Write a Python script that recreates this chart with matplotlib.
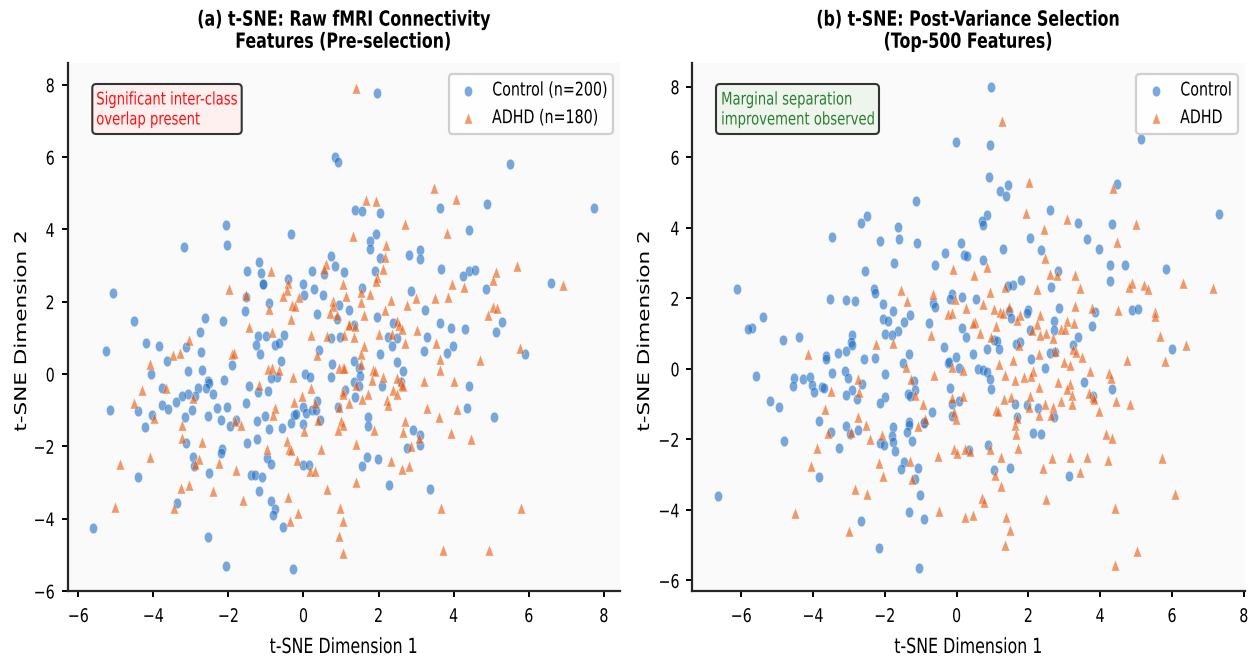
import numpy as np
import matplotlib
matplotlib.use("Agg")
import matplotlib.pyplot as plt
import matplotlib.patheffects as pe
from matplotlib.markers import MarkerStyle
from matplotlib.patches import FancyBboxPatch
from matplotlib.transforms import Affine2D, IdentityTransform

control_a = [(0.83,5.99),(0.92,5.87),(-0.34,3.88),(-2.06,4.11),(-2.05,3.57),(-3.18,3.51),(-1.18,3.09),(0.72,3.27),(0.84,2.99),(-1.50,2.86),
(-1.13,2.80),(1.09,2.82),(0.24,2.85),(0.55,2.76),(-0.40,2.62),(-1.07,2.49),(-1.09,2.49),(-0.01,2.49),(0.29,2.35),(0.02,2.18),
(0.51,2.19),(-1.52,2.12),(-5.08,2.24),(-0.92,1.95),(0.94,1.91),(1.20,1.78),(-1.55,1.75),(0.37,1.66),(0.89,1.52),(-2.62,1.55),
(-4.51,1.47),(-2.15,1.46),(-2.76,1.16),(-1.22,1.06),(-0.99,1.06),(-0.51,1.08),(0.72,0.99),(0.97,1.03),
(1.96,7.76),(5.50,5.82),(7.75,4.59),(4.88,4.69),(3.63,4.60),(1.36,4.54),(1.55,4.50),(2.03,4.45),(4.42,3.97),(1.94,3.88),
(1.77,3.69),(1.77,3.46),(2.05,3.21),(3.10,3.42),(3.10,3.17),(2.82,3.29),(1.91,2.85),(3.67,2.89),(4.42,2.86),(4.58,2.87),
(4.24,2.70),(4.87,2.36),(6.58,2.52),(1.55,2.39),(2.86,2.29),(3.24,1.78),(1.95,1.58),(1.35,1.36),(2.39,1.41),(3.64,1.41),
(3.92,1.28),(4.31,1.25),(5.14,1.17),(5.30,1.45),(2.24,1.01),(2.48,0.99),(3.30,1.01),
(2.37,0.78),(3.97,0.78),(3.21,0.64),(3.83,0.59),(5.91,0.55),(2.04,0.56),(1.34,0.36),(2.50,0.34),(2.66,0.09),(1.47,0.18),
(1.51,-0.06),(1.34,-0.21),(1.49,-0.33),(2.09,-0.33),(4.40,-0.33),(1.11,-0.43),(1.36,-0.63),(2.61,-0.21),(4.35,-0.93),(5.07,-1.20),
(1.73,-1.18),(1.73,-1.44),(2.93,-1.55),(3.11,-1.68),(3.11,-1.95),(2.75,-2.04),(1.70,-2.29),(1.99,-2.34),(1.55,-2.55),(2.29,-3.06),(3.37,-3.19),
(-5.25,0.63),(-4.19,0.85),(-3.85,0.78),(-3.12,0.75),(-2.72,0.60),(-3.64,0.35),(-4.07,-0.01),(-3.08,0.07),(-2.69,0.10),(-3.76,-0.38),
(-2.53,-0.18),(-2.51,-0.26),(-2.59,-0.40),(-2.80,-0.39),(-2.40,-0.56),(-2.12,-0.16),(-1.90,0.24),(-1.26,0.79),(-1.16,0.54),(-0.77,0.80),
(-0.64,0.87),(-0.60,0.37),(0.42,0.67),(0.76,0.29),(0.04,0.01),(0.17,-0.07),(0.74,-0.08),(-0.70,-0.07),(-0.87,-0.12),(-1.44,-0.32),
(-0.95,-0.48),(-1.22,-0.50),(-3.07,-0.56),(-3.24,-0.61),(-2.88,-0.61),(-3.39,-0.78),(-3.77,-0.85),(-3.62,-0.96),(-5.14,-0.99),(-4.42,-1.01),
(-4.03,-1.14),(-4.21,-1.46),(-3.16,-1.19),(-2.97,-1.00),(-2.54,-1.16),(-2.29,-0.95),(-2.03,-0.92),(-2.20,-1.27),(-1.95,-1.44),(-1.81,-1.27),
(-1.54,-0.80),(-1.02,-1.17),(-1.23,-1.31),(-0.93,-1.51),(-0.57,-1.50),(-0.32,-1.35),(-0.24,-1.12),(-0.20,-1.11),(-0.02,-0.92),(0.08,-1.08),
(-0.02,-1.38),(0.22,-0.99),(0.33,-0.99),(0.37,-0.74),(0.43,-1.28),(0.92,-0.91),(-3.14,-1.91),(-1.23,-1.80),(-1.50,-1.92),(-2.16,-2.07),
(-2.21,-2.19),(-2.93,-2.29),(-2.91,-2.55),(-0.98,-2.33),(-0.86,-2.48),(0.00,-2.52),(0.15,-2.52),(-2.52,-2.73),(-1.39,-2.78),(-1.29,-2.78),
(-1.11,-2.86),(-4.41,-2.85),(-1.18,-3.24),(-0.86,-3.50),(-0.76,-3.73),(-0.80,-3.89),(-3.37,-3.58),(-0.55,-4.22),(-5.61,-4.27),(-2.53,-4.52),
(-2.06,-5.32),(-0.27,-5.40)]

adhd_a = [(-0.86,2.86),(-1.98,2.36),(-1.52,2.19),(0.59,3.04),(0.55,2.90),(-0.40,2.51),(-0.44,2.32),(1.06,2.49),(-0.54,2.15),(-0.13,2.14),
(1.14,2.16),(-0.31,1.90),(-0.22,1.88),(-0.93,1.81),(0.79,2.01),(0.79,1.89),(0.71,1.70),(0.88,1.64),(-0.34,1.53),(-1.45,1.29),
(0.19,1.08),(0.63,1.04),(1.08,1.08),(-3.04,0.95),(1.22,1.38),(-0.83,1.15),
(1.41,7.91),(3.47,5.14),(4.05,4.83),(1.67,4.81),(1.92,4.79),(2.71,4.15),(3.82,3.90),(1.31,3.83),(2.19,3.56),(2.16,3.23),
(2.13,2.90),(5.69,3.00),(5.12,2.82),(5.06,2.61),(1.96,2.67),(1.92,2.56),(3.95,2.49),(4.28,2.41),(6.91,2.47),(1.53,2.26),
(1.76,2.21),(2.99,2.10),(3.50,2.10),(3.85,2.12),(2.34,2.04),(1.54,1.99),(2.75,1.90),(2.18,1.78),(5.05,1.84),(5.15,1.83),
(4.92,1.62),(1.60,1.62),(1.22,1.36),(1.36,1.32),(2.50,1.47),(2.55,1.35),(2.62,1.24),(3.02,1.22),(2.00,1.10),(2.37,1.10),(1.34,1.03),
(1.62,0.78),(3.53,0.85),(2.70,0.87),(1.53,0.56),(5.77,0.71),(3.63,0.41),(4.70,0.38),(3.63,0.10),(1.52,0.27),(1.06,0.18),
(1.86,0.10),(1.91,0.08),(2.11,-0.08),(1.83,-0.16),(3.21,-0.20),(4.00,-0.20),(2.50,-0.10),(2.61,-0.19),(2.66,-0.33),(2.62,-0.29),
(2.39,-0.43),(2.50,-0.55),(1.40,-0.31),(1.72,-0.56),(1.56,-0.70),(1.21,-0.80),(2.22,-0.72),(2.26,-0.86),(1.06,-0.47),(1.04,-0.56),
(3.28,-0.95),(4.10,-0.96),(3.61,-1.19),(2.71,-1.30),(1.89,-1.54),(2.65,-1.61),(3.08,-1.77),(3.93,-1.62),(4.46,-1.79),(1.39,-1.94),
(2.86,-2.00),(2.33,-2.40),(2.80,-2.55),(2.62,-2.62),(1.40,-2.99),(3.65,-3.70),(5.79,-3.70),(1.06,-4.06),(3.72,-4.87),(4.94,-4.88),(1.04,-4.95),
(-3.48,0.53),(-3.29,0.57),(-1.91,0.55),(-1.84,0.58),(-4.10,0.29),(0.37,0.52),(-0.95,0.13),(-0.83,0.18),(-0.66,0.10),(-0.27,-0.08),
(0.94,0.18),(1.07,0.17),(-4.30,-0.45),(-3.66,-0.38),(-1.19,-0.31),(0.19,-0.40),(-0.03,-0.62),(-2.95,-0.66),(-4.51,-0.80),(-0.26,-0.77),
(0.31,-0.80),(-0.76,-0.93),(-0.82,-1.12),(0.95,-0.90),(-3.98,-1.21),(-1.82,-1.29),(-1.66,-1.40),(0.40,-1.26),(1.00,-1.30),(1.04,-1.41),
(0.93,-1.54),(-3.23,-1.42),(0.02,-1.58),(-3.24,-1.78),(-2.70,-1.89),(-0.44,-1.86),(-0.98,-2.08),(-0.38,-2.08),(-0.32,-2.09),(0.46,-2.08),
(-4.08,-2.30),(-4.88,-2.48),(-2.78,-2.34),(-2.90,-2.49),(-2.26,-2.45),(-0.16,-2.37),(-1.81,-2.66),(0.17,-2.69),(0.32,-2.69),(-3.05,-3.06),
(-3.27,-3.16),(-2.42,-3.23),(0.63,-3.17),(-1.62,-3.49),(-0.42,-3.39),(-5.01,-3.69),(-3.44,-3.71),(0.97,-3.71),(-0.15,-3.85),(-0.36,-4.06),(0.95,-4.48)]

control_b = [(-0.01,6.44),(-1.13,4.76),(-2.49,4.34),(-2.67,4.14),(-1.63,4.02),(-3.46,3.74),(-2.12,3.62),(-1.61,3.67),(-1.09,3.57),(0.12,3.57),
(-0.33,3.27),(0.22,3.22),(0.28,3.20),(-1.73,2.99),(-0.60,2.93),(-2.54,2.78),(-6.11,2.26),(-2.30,2.25),(-2.26,2.15),(-0.13,2.11),
(0.14,2.03),(-0.18,1.97),(-3.53,1.98),(-3.07,1.95),(-2.84,1.92),(-2.06,1.84),(-0.65,1.86),(-0.61,1.74),(-1.76,1.65),(-1.30,1.52),
(-5.40,1.47),(-2.04,1.41),(-1.90,1.35),(-1.45,1.33),(-0.78,1.31),(-5.70,1.15),(-5.81,1.12),(0.16,1.17),(0.25,0.91),(-1.98,1.00),
(-1.62,1.07),(-1.81,0.95),(-2.92,0.96),(-4.83,0.83),(-4.40,0.89),
(0.95,7.98),(0.92,6.35),(0.91,5.44),(1.43,5.21),(1.20,5.04),(1.39,4.91),(5.14,6.51),(4.46,5.24),(7.32,4.38),(0.86,4.36),
(0.72,4.19),(0.73,4.09),(2.59,4.51),(3.37,4.13),(4.32,4.10),(2.05,3.72),(3.62,3.67),(3.97,3.41),(1.30,3.39),(2.34,3.36),
(0.73,3.08),(4.27,2.93),(4.69,2.95),(5.82,2.82),(2.83,2.76),(1.80,2.53),(4.27,2.48),(1.56,2.38),(1.42,2.36),(2.63,2.33),
(0.54,1.99),(2.84,1.71),(2.00,1.66),(1.97,1.57),(4.90,1.67),(5.06,1.69),(3.87,1.61),(1.47,1.65),(1.52,1.44),(2.72,1.36),
(2.72,1.10),(2.05,1.10),(3.77,1.22),(3.37,0.89),
(1.03,0.81),(1.12,0.79),(1.19,0.56),(0.86,0.55),(0.47,0.43),(1.65,0.70),(1.76,0.75),(3.25,0.68),(2.59,0.45),(2.73,0.48),
(2.06,0.29),(2.45,0.01),(5.99,0.56),(0.61,-0.01),(0.73,-0.04),(0.84,-0.09),(0.93,-0.28),(0.95,-0.56),(3.55,-0.37),(4.34,-0.58),
(3.81,-0.77),(1.63,-1.01),(1.95,-1.02),(2.28,-1.10),(1.69,-1.36),(2.71,-1.37),(2.12,-1.82),(2.34,-1.85),(0.88,-2.17),(0.34,-2.31),
(1.04,-2.87),(1.48,-2.81),(3.13,-3.03),
(-5.59,-0.20),(-4.53,-0.25),(-4.28,-0.28),(-4.08,-0.24),(-4.56,-0.48),(-4.03,-0.46),(-3.97,-0.65),(-3.76,-0.51),(-3.68,-0.55),(-5.20,-0.91),
(-4.94,-1.09),(-4.81,-2.05),(-6.65,-3.61),(-3.64,0.37),(-3.64,0.29),(-3.30,0.46),(-3.09,0.50),(-2.94,0.77),(-2.90,0.67),(-2.59,0.27),
(-2.27,0.32),(-1.32,0.43),(-1.49,0.17),(-0.35,0.61),(-0.25,0.17),(-0.21,0.18),(-0.01,0.34),(0.08,0.01),(-3.46,-0.13),(-3.11,-0.06),
(-3.03,-0.26),(-2.64,-0.42),(-1.98,-0.16),(-1.18,-0.35),(-1.15,-0.59),(-1.36,-0.72),(-1.30,-0.77),(-2.91,-0.60),(-3.08,-0.75),(-2.77,-0.86),
(-1.99,-0.80),(-2.14,-0.96),(-0.67,-1.23),(-0.18,-0.55),(-0.13,-1.01),(0.08,-0.92),(-0.12,-1.33),(-3.82,-1.47),(-1.33,-1.50),(-1.33,-1.59),
(-0.90,-1.50),(-0.90,-1.54),(-1.78,-1.65),(-1.37,-1.80),(-3.49,-1.78),(-3.08,-1.62),(-2.75,-1.73),(-2.98,-1.84),(-1.79,-1.91),(-1.76,-2.08),
(-2.13,-2.09),(-2.03,-2.17),(-1.25,-2.06),(-1.71,-2.32),(-3.27,-2.25),(-1.46,-2.63),(-1.56,-2.83),(-1.07,-2.80),(-1.17,-3.12),(-3.82,-3.07),
(-1.02,-3.59),(-1.33,-4.07),(-0.92,-4.26),(-2.65,-4.32),(-2.17,-5.08),(-1.04,-5.65)]

adhd_b = [(-0.10,2.83),(-1.56,2.23),(-0.65,2.12),(-1.37,1.91),(-0.04,1.99),(0.26,1.71),(-0.25,1.55),(-0.12,1.59),(-0.70,0.96),
(1.26,7.03),(2.03,5.30),(4.37,5.13),(1.94,4.43),(3.07,4.25),(4.99,4.11),(2.44,3.95),(4.46,3.60),(2.46,3.15),(0.85,2.89),
(0.48,2.67),(2.59,2.70),(2.80,2.66),(3.31,2.66),(1.36,2.33),(2.23,2.27),(3.45,2.29),(4.79,2.33),(4.89,2.42),(5.21,2.38),
(5.33,2.25),(6.31,2.42),(7.15,2.29),(0.94,2.17),(0.75,1.83),(1.05,1.69),(1.21,1.62),(1.28,1.59),(1.47,1.74),(3.29,1.78),
(3.77,1.71),(4.49,1.66),(5.53,1.60),(5.52,1.50),(1.76,1.52),(1.68,1.38),(2.32,1.52),(2.25,1.26),(0.51,1.33),(0.47,1.29),
(1.11,1.20),(0.65,1.02),(3.09,1.35),(3.27,1.29),(2.91,1.13),(3.02,1.12),(2.50,1.02),(2.09,1.10),(2.33,0.96),(5.66,0.93),(2.70,0.86),(0.97,0.91),
(1.73,0.68),(2.74,0.51),(3.25,0.56),(3.32,0.47),(3.50,0.34),(2.30,0.42),(1.56,0.25),(1.19,0.13),(4.76,0.26),(5.81,0.23),
(6.40,0.67),(2.99,0.18),(3.17,0.10),(3.73,-0.07),(4.25,-0.11),(4.30,-0.26),(2.14,-0.06),(2.08,-0.20),(1.34,-0.19),(1.63,-0.32),
(1.87,-0.23),(2.82,-0.37),(3.16,-0.43),(2.29,-0.51),(3.08,-0.56),(3.21,-0.75),(3.70,-0.70),(3.81,-0.81),(3.83,-0.87),(4.43,-0.92),
(4.83,-0.99),(2.05,-0.78),(1.51,-0.79),(1.31,-0.87),(2.91,-0.90),(3.22,-1.00),(2.47,-1.00),(2.70,-1.08),(2.02,-1.09),(1.09,-1.17),
(1.15,-1.21),(3.96,-1.20),(2.29,-1.30),(2.62,-1.30),(1.69,-1.39),(1.63,-1.60),(1.65,-1.85),(4.15,-1.85),(4.32,-1.96),(1.72,-2.24),
(0.93,-2.26),(0.24,-2.27),(0.38,-2.33),(1.25,-2.51),(2.65,-2.52),(3.17,-2.49),(3.64,-2.49),(4.23,-2.58),(5.72,-2.53),(2.40,-2.82),
(3.43,-2.93),(1.06,-3.00),(1.23,-3.32),(0.72,-3.66),(0.77,-3.78),(2.50,-3.68),(6.09,-3.56),(4.42,-3.95),(0.24,-4.19),(0.46,-4.14),
(1.38,-4.19),(1.48,-4.58),(5.02,-5.17),(1.34,-4.99),(4.40,-5.57),(0.19,-0.04),(0.19,-0.77),
(-4.14,0.41),(-2.24,0.70),(-1.78,0.72),(-1.41,0.06),(-0.12,0.06),(-0.63,-0.17),(-2.74,-0.29),(-1.26,-0.29),(-3.50,-0.64),(-2.73,-0.66),
(-1.15,-0.73),(-0.14,-0.84),(-0.93,-0.99),(-3.66,-1.13),(-0.07,-1.22),(-0.01,-1.43),(-2.75,-1.37),(-0.88,-1.42),(-2.52,-1.58),(-1.06,-1.62),
(-3.57,-1.81),(-2.95,-1.79),(-2.09,-1.89),(-2.41,-2.00),(-3.90,-2.24),(-0.07,-2.28),(0.00,-2.38),(-0.52,-2.46),(-1.31,-2.61),(-2.17,-2.66),
(-4.05,-2.77),(-2.06,-3.04),(-1.23,-3.13),(-2.83,-3.40),(-2.50,-3.56),(-0.48,-4.02),(-4.51,-4.09),(-2.99,-4.59)]

titles = ["(a) t-SNE: Raw fMRI Connectivity\nFeatures (Pre-selection)",
          "(b) t-SNE: Post-Variance Selection\n(Top-500 Features)"]
legend_a = ["Control (n=200)", "ADHD (n=180)"]
legend_b = ["Control", "ADHD"]
notes = ["Significant inter-class\noverlap present", "Marginal separation\nimprovement observed"]
ticks = [-6, -4, -2, 0, 2, 4, 6, 8]

W, H = 1252, 660
SX = 0.76
BLUE, ORANGE = "#1F6FC6", "#E8590C"


class SqueezeX(pe.AbstractPathEffect):
    def __init__(self, s=SX, mode="center", shift=0.0):
        super().__init__()
        self.s, self.mode, self.shift = s, mode, shift

    def draw_path(self, renderer, gc, tpath, affine, rgbFace=None):
        bb = tpath.get_extents(affine)
        a = {"center": (bb.x0 + bb.x1) / 2, "left": bb.x0, "right": bb.x1}[self.mode]
        new = affine + Affine2D().translate(-a, 0).scale(self.s, 1).translate(a + self.shift, 0)
        renderer.draw_path(gc, tpath, new, rgbFace)


def sq(mode="center", shift=0.0):
    return [SqueezeX(SX, mode, shift)]


fig = plt.figure(figsize=(W / 100, H / 100), dpi=100)
circle = MarkerStyle("o", transform=Affine2D().scale(SX, 1))
tri = MarkerStyle("^", transform=Affine2D().scale(SX, 1))


def panel(box, xlim, ylim, ctrl, adhd, title, labels, note, note_box, note_x,
          note_fc, note_c, leg_box, leg_gap, leg_shift):
    l, r, t, b = box
    ax = fig.add_axes([l / W, 1 - b / H, (r - l) / W, (b - t) / H])
    ax.set_facecolor("#FAFAFA")
    c = np.array(ctrl)
    a = np.array(adhd)
    ax.scatter(c[:, 0], c[:, 1], s=58, marker=circle, c=BLUE, alpha=0.6,
               edgecolors="white", linewidths=0.35, label=labels[0])
    ax.scatter(a[:, 0], a[:, 1], s=62, marker=tri, c=ORANGE, alpha=0.6,
               edgecolors="white", linewidths=0.35, label=labels[1])
    ax.set_xlim(*xlim)
    ax.set_ylim(*ylim)
    ax.set_xticks(ticks)
    ax.set_yticks(ticks)
    ax.tick_params(labelsize=13.5, length=4.5, width=1.4)
    ax.tick_params(axis="x", pad=7)
    ax.tick_params(axis="y", pad=4.5)
    for lb in ax.get_xticklabels():
        lb.set_path_effects(sq("center"))
    for lb in ax.get_yticklabels():
        lb.set_path_effects(sq("right"))
    for s in ("top", "right"):
        ax.spines[s].set_visible(False)
    for s in ("left", "bottom"):
        ax.spines[s].set_linewidth(1.6)
        ax.spines[s].set_color("#262626")
    ax.set_xlabel("t-SNE Dimension 1", fontsize=15, va="center", path_effects=sq())
    ax.set_ylabel("t-SNE Dimension 2", fontsize=15.5, va="center", path_effects=sq())
    ax.xaxis.set_label_coords(0.5, -(647 - b) / (b - t))
    ax.yaxis.set_label_coords(-(l - (22 if l < 300 else 645)) / (r - l), 0.5 - 4 / (b - t))
    ax.set_title(title, fontsize=15, fontweight="bold", pad=11, linespacing=1.13,
                 path_effects=sq())

    # annotation box, drawn in pixels
    x0, y0, x1, y1 = note_box
    ax.add_patch(FancyBboxPatch((x0, H - y1), x1 - x0, y1 - y0,
                                boxstyle="round,pad=0,rounding_size=4",
                                transform=IdentityTransform(), fc=note_fc, ec="#333333",
                                lw=1.5, zorder=5, clip_on=False))
    for line, yy in zip(note.split("\n"), (99.5, 119.5)):
        ax.text((note_x - l) / (r - l), (b - yy) / (b - t), line, transform=ax.transAxes,
                fontsize=12.5, color=note_c, ha="left", va="center", zorder=6,
                path_effects=sq("left"))

    # legend
    fs_pt = 13.5
    fs_px = fs_pt * 100 / 72
    lx1, ly0 = leg_box
    leg = ax.legend(loc="upper right", bbox_to_anchor=((lx1 - l) / (r - l), (b - ly0) / (b - t)),
                    fontsize=fs_pt, borderaxespad=0, borderpad=6.5 / fs_px,
                    handlelength=26 / fs_px, handletextpad=leg_gap / fs_px, labelspacing=0.46,
                    framealpha=0.92, edgecolor="#CCCCCC", facecolor="white", scatterpoints=1)
    leg.get_frame().set_linewidth(1.6)
    for txt in leg.get_texts():
        txt.set_path_effects(sq("left", leg_shift))
    return ax


panel((67.5, 620, 63, 591), (-6.285, 8.43), (-6.0, 8.6), control_a, adhd_a, titles[0], legend_a,
      notes[0], (92.3, 84, 241.7, 134), 96, "#FFF0F0", "#FF1010", (613, 74), -26, 37.0)
panel((692.3, 1244.5, 63, 591), (-7.36, 8.02), (-6.3, 8.67), control_b, adhd_b, titles[1], legend_b,
      notes[1], (716, 84, 879, 134), 720.7, "#EDF5ED", "#2E7D32", (1237.7, 74), -5, 16.5)

fig.savefig("out.png", dpi=100)
